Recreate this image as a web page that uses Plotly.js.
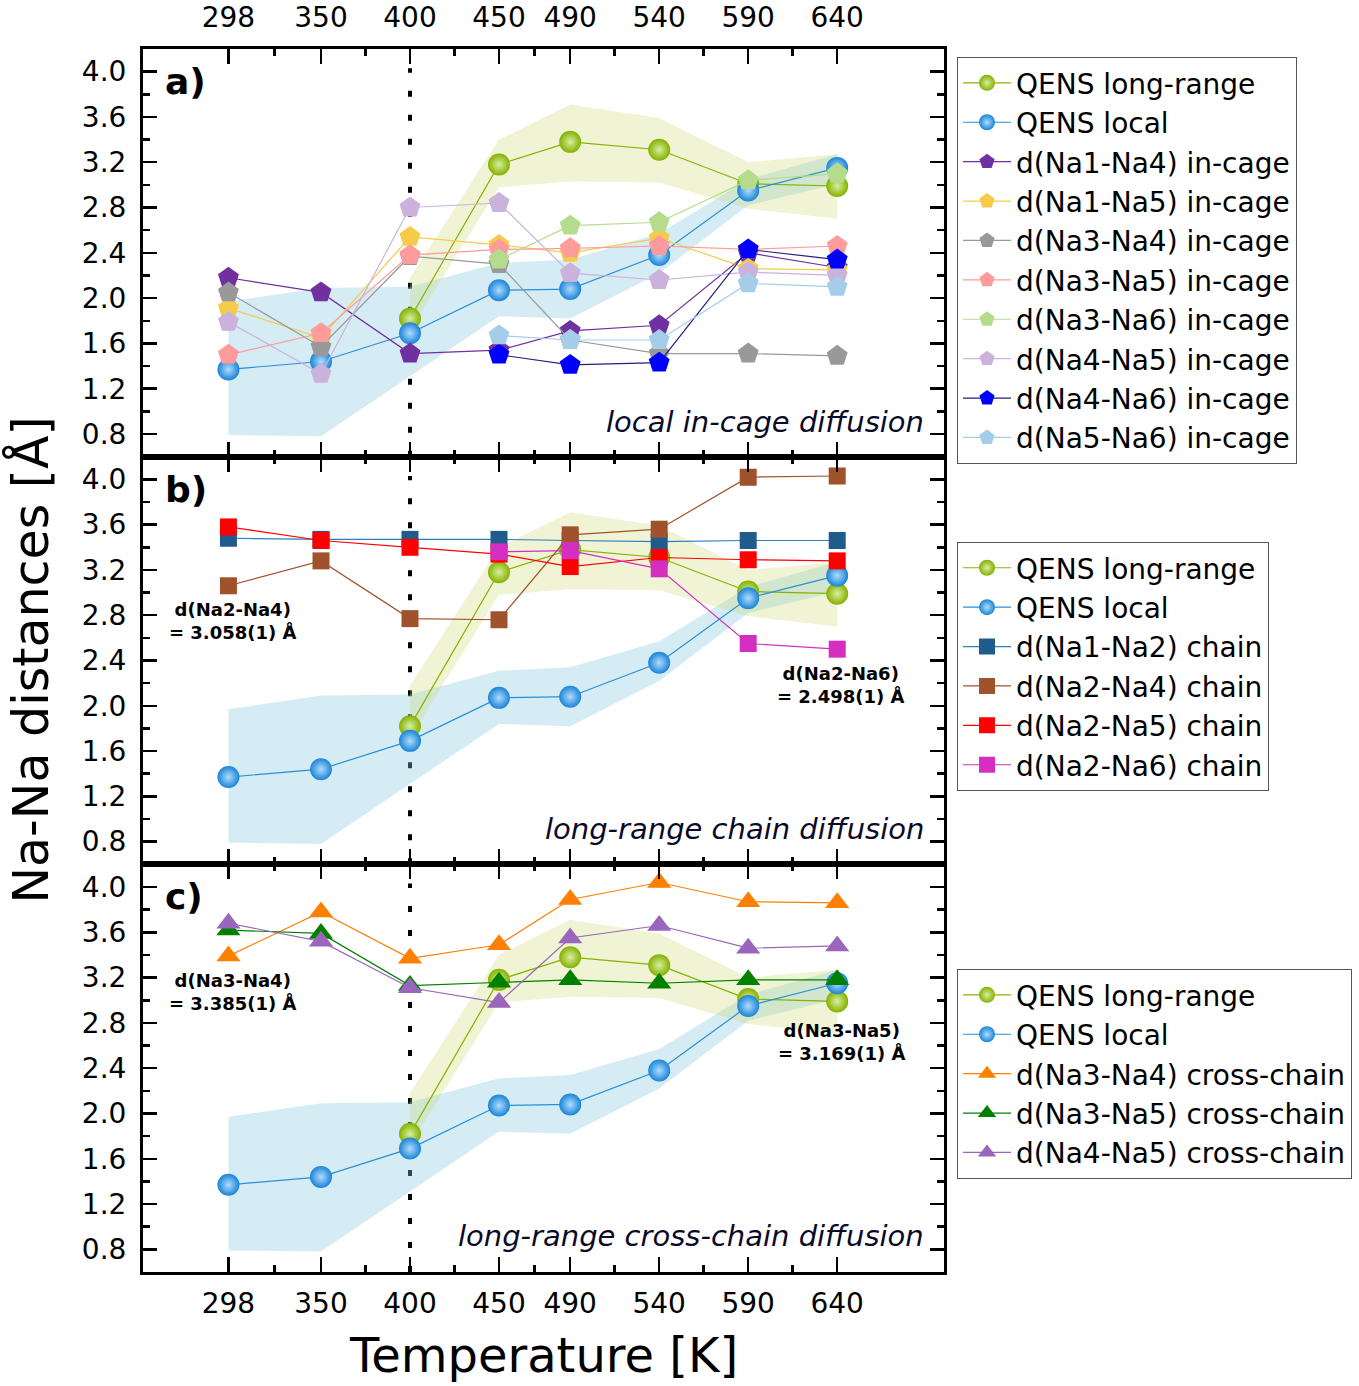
<!DOCTYPE html>
<html>
<head>
<meta charset="utf-8">
<script src="https://cdn.plot.ly/plotly-3.0.1.min.js"></script>
<style>html,body{margin:0;padding:0;background:#fff;}</style>
</head>
<body>
<div id="chart" style="width:1359px;height:1386px;"></div>
<script>
// ---------- data ----------
const temps = [298, 350, 400, 450, 490, 540, 590, 640];
const tickLabels = ['298', '350', '400', '450', '490', '540', '590', '640'];

const qensLong = [null, null, 1.82, 3.18, 3.38, 3.31, 3.01, 2.99];
const qensLongUpper = [null, null, 2.18, 3.40, 3.71, 3.59, 3.20, 3.27];
const qensLongLower = [null, null, 1.72, 2.98, 3.03, 3.02, 2.79, 2.70];
const qensLocal = [1.37, 1.44, 1.69, 2.07, 2.08, 2.38, 2.95, 3.15];
const qensLocalUpper = [1.97, 2.09, 2.10, 2.31, 2.34, 2.57, 3.05, 3.27];
const qensLocalLower = [0.79, 0.78, 1.31, 1.84, 1.82, 2.22, 2.82, 3.01];

// panel a: in-cage
const na1na4 = [2.18, 2.05, 1.51, 1.54, 1.71, 1.76, 2.40, 2.27];
const na1na5 = [1.91, 1.65, 2.54, 2.47, 2.40, 2.53, 2.26, 2.25];
const na3na4 = [2.05, 1.57, 2.37, 2.30, 1.63, 1.51, 1.51, 1.49];
const na3na5 = [1.50, 1.69, 2.38, 2.43, 2.44, 2.46, 2.43, 2.46];
const na3na6 = [null, null, null, 2.34, 2.64, 2.67, 3.04, 3.10];
const na4na5 = [1.79, 1.33, 2.80, 2.84, 2.22, 2.16, 2.23, 2.20];
const na4na6 = [null, null, null, 1.50, 1.41, 1.43, 2.43, 2.34];
const na5na6 = [null, null, null, 1.67, 1.63, 1.63, 2.13, 2.10];

// panel b: chain
const na1na2Chain = [3.48, 3.47, 3.47, 3.47, 3.46, 3.45, 3.46, 3.46];
const na2na4Chain = [3.06, 3.28, 2.77, 2.76, 3.51, 3.56, 4.02, 4.03];
const na2na5Chain = [3.58, 3.46, 3.40, 3.34, 3.23, 3.31, 3.29, 3.28];
const na2na6Chain = [null, null, null, 3.36, 3.37, 3.21, 2.55, 2.50];

// panel c: cross-chain
const na3na4Cross = [3.39, 3.78, 3.37, 3.49, 3.89, 4.04, 3.87, 3.86];
const na3na5Cross = [3.62, 3.59, 3.13, 3.16, 3.18, 3.15, 3.18, 3.18];
const na4na5Cross = [3.68, 3.52, 3.11, 2.98, 3.55, 3.66, 3.46, 3.48];

const yTicks = [0.8, 1.2, 1.6, 2.0, 2.4, 2.8, 3.2, 3.6, 4.0];
const yMinor = [1.0, 1.4, 1.8, 2.2, 2.6, 3.0, 3.4, 3.8];
const xMinor = [324, 375, 425, 470, 515, 565, 615];

// ---------- helpers ----------
const FONT = 'DejaVu Sans, Liberation Sans, Arial, sans-serif';

function band(upper, lower, color, xa, ya) {
  const xs = [], ys = [];
  for (let i = 0; i < temps.length; i++) if (upper[i] != null) { xs.push(temps[i]); ys.push(upper[i]); }
  for (let i = temps.length - 1; i >= 0; i--) if (lower[i] != null) { xs.push(temps[i]); ys.push(lower[i]); }
  return {x: xs, y: ys, xaxis: xa, yaxis: ya, type: 'scatter', mode: 'lines', fill: 'toself',
    fillcolor: color, line: {width: 0}, hoverinfo: 'skip', showlegend: false};
}

function series(name, y, color, symbol, size, xa, ya, legend, lineColor, grad) {
  const marker = {symbol: symbol, size: size, color: color, line: {width: 0}};
  if (grad) marker.gradient = {type: 'radial', color: grad};
  return {x: temps, y: y, name: name, xaxis: xa, yaxis: ya, legend: legend, type: 'scatter',
    mode: 'lines+markers', connectgaps: false,
    line: {color: lineColor || color, width: 1.2}, marker: marker};
}

const traces = [];
const panels = [
  {xa: 'x3', ya: 'y', lg: 'legend'},
  {xa: 'x2', ya: 'y2', lg: 'legend2'},
  {xa: 'x', ya: 'y3', lg: 'legend3'}
];
panels.forEach(p => {
  traces.push(band(qensLocalUpper, qensLocalLower, 'rgba(135,200,225,0.35)', p.xa, p.ya));
  traces.push(band(qensLongUpper, qensLongLower, 'rgba(200,215,100,0.28)', p.xa, p.ya));
  traces.push(series('QENS long-range', qensLong, '#84b000', 'circle', 22, p.xa, p.ya, p.lg, '#86b300', '#d8f0a0'));
  traces.push(series('QENS local', qensLocal, '#1a84d6', 'circle', 22, p.xa, p.ya, p.lg, '#2a8fd6', '#b0dcff'));
});

const A = panels[0], B = panels[1], C = panels[2];
traces.push(series('d(Na1-Na4) in-cage', na1na4, '#7030a0', 'pentagon', 22, A.xa, A.ya, A.lg));
traces.push(series('d(Na1-Na5) in-cage', na1na5, '#f5cc4a', 'pentagon', 22, A.xa, A.ya, A.lg));
traces.push(series('d(Na3-Na4) in-cage', na3na4, '#999999', 'pentagon', 22, A.xa, A.ya, A.lg));
traces.push(series('d(Na3-Na5) in-cage', na3na5, '#ff9b9b', 'pentagon', 22, A.xa, A.ya, A.lg));
traces.push(series('d(Na3-Na6) in-cage', na3na6, '#b5dc8c', 'pentagon', 22, A.xa, A.ya, A.lg));
traces.push(series('d(Na4-Na5) in-cage', na4na5, '#cbb2dc', 'pentagon', 22, A.xa, A.ya, A.lg));
traces.push(series('d(Na4-Na6) in-cage', na4na6, '#0000ff', 'pentagon', 22, A.xa, A.ya, A.lg, '#202080'));
traces.push(series('d(Na5-Na6) in-cage', na5na6, '#a5cdea', 'pentagon', 22, A.xa, A.ya, A.lg));

traces.push(series('d(Na1-Na2) chain', na1na2Chain, '#1f5c8c', 'square', 17, B.xa, B.ya, B.lg, '#2a7fc0'));
traces.push(series('d(Na2-Na4) chain', na2na4Chain, '#a0522d', 'square', 17, B.xa, B.ya, B.lg));
traces.push(series('d(Na2-Na5) chain', na2na5Chain, '#ff0000', 'square', 17, B.xa, B.ya, B.lg));
traces.push(series('d(Na2-Na6) chain', na2na6Chain, '#d42fc0', 'square', 17, B.xa, B.ya, B.lg));

traces.push(series('d(Na3-Na4) cross-chain', na3na4Cross, '#ff8000', 'triangle-up', 21, C.xa, C.ya, C.lg));
traces.push(series('d(Na3-Na5) cross-chain', na3na5Cross, '#008000', 'triangle-up', 21, C.xa, C.ya, C.lg));
traces.push(series('d(Na4-Na5) cross-chain', na4na5Cross, '#9966bb', 'triangle-up', 21, C.xa, C.ya, C.lg));

// ---------- layout ----------
function xAxis(extra) {
  return Object.assign({
    range: [250, 700], tickmode: 'array', tickvals: temps, ticktext: tickLabels,
    ticks: 'inside', ticklen: 15, tickwidth: 2.5, tickcolor: '#000',
    minor: {tickmode: 'array', tickvals: xMinor, ticks: 'inside', ticklen: 7, tickwidth: 2.5, tickcolor: '#000'},
    showline: true, linewidth: 3, linecolor: '#000', mirror: 'ticks',
    showgrid: false, zeroline: false,
    tickfont: {family: FONT, size: 28, color: '#000'}
  }, extra);
}
function yAxis(domain) {
  return {
    domain: domain, range: [0.6, 4.2], tickmode: 'array', tickvals: yTicks, tickformat: '.1f',
    ticks: 'inside', ticklen: 14, tickwidth: 2.5, tickcolor: '#000',
    minor: {tickmode: 'array', tickvals: yMinor, ticks: 'inside', ticklen: 7, tickwidth: 2.5, tickcolor: '#000'},
    showline: true, linewidth: 3, linecolor: '#000', mirror: 'ticks',
    showgrid: false, zeroline: false, ticklabelstandoff: 8,
    tickfont: {family: FONT, size: 28, color: '#000'}
  };
}

function legendBox(y) {
  return {x: 1.016, xanchor: 'left', y: y, yanchor: 'top', bgcolor: '#fff',
    bordercolor: '#555', borderwidth: 1.2, font: {family: FONT, size: 28, color: '#000'},
    itemwidth: 48, tracegroupgap: 0};
}

function vline(xa, ya) {
  return {type: 'line', xref: xa, yref: ya, x0: 400, x1: 400, y0: 0.6, y1: 4.03,
    line: {color: '#000', width: 4, dash: '6px,18px'}, layer: 'below'};
}

const italic = {family: FONT, size: 29, color: '#0a0a28', style: 'italic'};
const boldSmall = {family: FONT, size: 18, color: '#000', weight: 'bold'};
const boldBig = {family: FONT, size: 36, color: '#000', weight: 'bold'};

const annotations = [
  {xref: 'x3 domain', yref: 'y domain', x: 0.025, y: 0.92, xanchor: 'left', yanchor: 'middle', text: 'a)', showarrow: false, font: boldBig},
  {xref: 'x2 domain', yref: 'y2 domain', x: 0.025, y: 0.92, xanchor: 'left', yanchor: 'middle', text: 'b)', showarrow: false, font: boldBig},
  {xref: 'x domain', yref: 'y3 domain', x: 0.025, y: 0.92, xanchor: 'left', yanchor: 'middle', text: 'c)', showarrow: false, font: boldBig},
  {xref: 'x3 domain', yref: 'y domain', x: 0.977, y: 0.086, xanchor: 'right', yanchor: 'middle', text: 'local in-cage diffusion', showarrow: false, font: italic},
  {xref: 'x2 domain', yref: 'y2 domain', x: 0.977, y: 0.086, xanchor: 'right', yanchor: 'middle', text: 'long-range chain diffusion', showarrow: false, font: italic},
  {xref: 'x domain', yref: 'y3 domain', x: 0.977, y: 0.088, xanchor: 'right', yanchor: 'middle', text: 'long-range cross-chain diffusion', showarrow: false, font: italic},
  {xref: 'x2 domain', yref: 'y2 domain', x: 0.112, y: 0.597, xanchor: 'center', yanchor: 'middle', text: 'd(Na2-Na4)<br>= 3.058(1) Å', showarrow: false, font: boldSmall},
  {xref: 'x2 domain', yref: 'y2 domain', x: 0.871, y: 0.44, xanchor: 'center', yanchor: 'middle', text: 'd(Na2-Na6)<br>= 2.498(1) Å', showarrow: false, font: boldSmall},
  {xref: 'x domain', yref: 'y3 domain', x: 0.112, y: 0.686, xanchor: 'center', yanchor: 'middle', text: 'd(Na3-Na4)<br>= 3.385(1) Å', showarrow: false, font: boldSmall},
  {xref: 'x domain', yref: 'y3 domain', x: 0.873, y: 0.564, xanchor: 'center', yanchor: 'middle', text: 'd(Na3-Na5)<br>= 3.169(1) Å', showarrow: false, font: boldSmall},
  {xref: 'paper', yref: 'paper', x: -0.141, y: 0.5, xanchor: 'center', yanchor: 'middle', textangle: -90,
    text: 'Na-Na distances [Å]', showarrow: false, font: {family: FONT, size: 49, color: '#000'}},
  {xref: 'paper', yref: 'paper', x: 0.5, y: -0.068, xanchor: 'center', yanchor: 'middle',
    text: 'Temperature [K]', showarrow: false, font: {family: FONT, size: 48, color: '#000'}}
];

const layout = {
  width: 1359, height: 1386,
  margin: {l: 143, r: 415, t: 49, b: 114, autoexpand: false},
  paper_bgcolor: '#fff', plot_bgcolor: '#fff',
  font: {family: FONT, color: '#000'},
  xaxis: xAxis({anchor: 'y3', side: 'bottom', ticklabelstandoff: 4}),
  xaxis2: xAxis({anchor: 'y2', matches: 'x', showticklabels: false}),
  xaxis3: xAxis({anchor: 'y', matches: 'x', side: 'top', ticklabelstandoff: 8}),
  yaxis: yAxis([0.6667, 1]),
  yaxis2: yAxis([0.3334, 0.6666]),
  yaxis3: yAxis([0, 0.3333]),
  legend: legendBox(0.9935),
  legend2: legendBox(0.597),
  legend3: legendBox(0.2478),
  shapes: [vline('x3', 'y'), vline('x2', 'y2'), vline('x', 'y3')],
  annotations: annotations,
  hovermode: false
};

Plotly.newPlot('chart', traces, layout, {displayModeBar: false, staticPlot: true});
</script>
</body>
</html>
